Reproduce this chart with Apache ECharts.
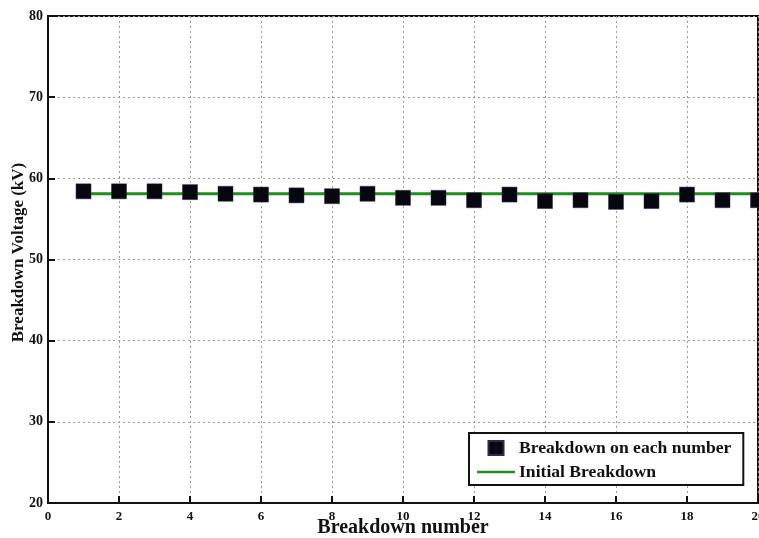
<!DOCTYPE html>
<html><head><meta charset="utf-8">
<script src="https://cdn.jsdelivr.net/npm/echarts@6/dist/echarts.min.js"></script>
<style>html,body{margin:0;padding:0;background:#fff}#c{width:759px;height:538px}</style>
</head><body><div id="c"></div>
<script>
const breakdownNumbers = [1,2,3,4,5,6,7,8,9,10,11,12,13,14,15,16,17,18,19,20];
const breakdownVoltages = [58.4,58.4,58.4,58.3,58.1,58.0,57.9,57.8,58.1,57.6,57.6,57.3,58.0,57.2,57.3,57.1,57.2,58.0,57.3,57.3];
const initialBreakdown = 58.1;
const xTicks = {min:0, max:20, interval:2};
const yTicks = {min:20, max:80, interval:10};

const font = '"Liberation Serif","Times New Roman",serif';
const chart = echarts.init(document.getElementById('c'));
chart.setOption({
  animation:false,
  backgroundColor:'#fff',
  grid:{left:48,right:1,top:16,bottom:35,outerBoundsMode:'none',containLabel:false,
        show:true,borderColor:'#111',borderWidth:2,backgroundColor:'transparent'},
  legend:{
    left:469, top:433, orient:'vertical',
    borderColor:'#111', borderWidth:2, backgroundColor:'#fff', borderRadius:0,
    padding:[6,12,4,8], itemGap:6, itemWidth:38, itemHeight:14,
    textStyle:{fontFamily:font,fontWeight:'bold',fontSize:17.6,color:'#111',padding:[0,0,0,-1]},
    data:[
      {name:'Breakdown on each number', icon:'path://M12,0 L27,0 L27,14 L12,14 Z'},
      {name:'Initial Breakdown', icon:'path://M0,6 L38,6 L38,8.5 L0,8.5 Z'}
    ]
  },
  xAxis:{type:'value',min:xTicks.min,max:xTicks.max,interval:xTicks.interval,
    name:'Breakdown number',nameLocation:'middle',nameGap:15,nameMoveOverlap:false,
    nameTextStyle:{fontFamily:font,fontWeight:'bold',fontSize:20,color:'#111',verticalAlign:'top'},
    axisLine:{show:true,lineStyle:{color:'#111',width:2}},
    axisTick:{show:true,inside:true,length:7,lineStyle:{color:'#111',width:2}},
    axisLabel:{fontFamily:font,fontWeight:'bold',fontSize:13,color:'#111',margin:7},
    splitLine:{show:true,lineStyle:{color:'#999',type:[2,3],width:1}}
  },
  yAxis:{type:'value',min:yTicks.min,max:yTicks.max,interval:yTicks.interval,
    name:'Breakdown Voltage (kV)',nameLocation:'middle',nameGap:21,nameMoveOverlap:false,
    nameTextStyle:{fontFamily:font,fontWeight:'bold',fontSize:17,color:'#111',padding:[0,0,0,14]},
    axisLine:{show:true,lineStyle:{color:'#111',width:2}},
    axisTick:{show:true,inside:true,length:7,lineStyle:{color:'#111',width:2}},
    axisLabel:{fontFamily:font,fontWeight:'bold',fontSize:14,color:'#111',margin:5},
    splitLine:{show:true,lineStyle:{color:'#999',type:[2,3],width:1}}
  },
  series:[
    {name:'Initial Breakdown',type:'line',z:2,symbol:'none',
     lineStyle:{color:'#1e8f1e',width:3},itemStyle:{color:'#1e8f1e'},
     data:breakdownNumbers.map(n=>[n,initialBreakdown])},
    {name:'Breakdown on each number',type:'scatter',z:3,symbol:'rect',symbolSize:15,clip:true,
     itemStyle:{color:'#07070f',opacity:1,borderColor:'#2a2a50',borderWidth:0.5},
     data:breakdownNumbers.map((n,i)=>[n,breakdownVoltages[i]])}
  ]
});
</script></body></html>
